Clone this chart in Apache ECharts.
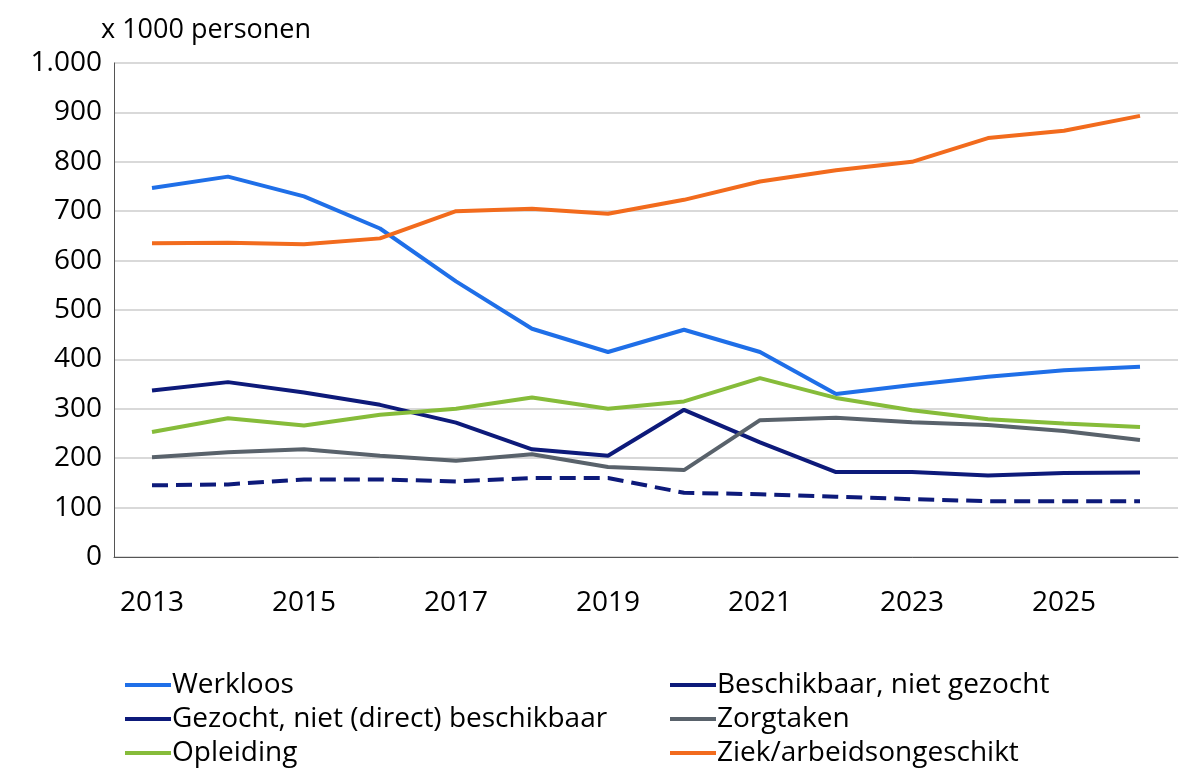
<!DOCTYPE html><html><head><meta charset="utf-8"><script src="https://cdn.jsdelivr.net/npm/echarts@6/dist/echarts.min.js"></script></head><body style="margin:0"><div id="c" style="width:1200px;height:783px"></div><script>
const years=['2013','2014','2015','2016','2017','2018','2019','2020','2021','2022','2023','2024','2025','2026'];
const werkloos=[747,770,730,665,558,462,415,460,415,330,348,365,378,385];
const beschikbaar=[337,354,333,308,272,218,205,298,232,172,172,165,170,171];
const gezocht=[145,147,157,157,153,160,160,130,127,122,117,113,113,113];
const zorgtaken=[202,212,218,205,195,208,182,176,277,282,273,267,255,237];
const opleiding=[253,281,266,288,300,323,300,315,362,322,297,279,270,263];
const ziek=[635,636,633,645,700,705,695,723,760,783,800,848,863,893];
const F='Open Sans';
function s(name,data,color,type){return {name,type:'line',data,symbol:'none',lineStyle:{color,width:4,type:type||'solid'},itemStyle:{color}};}
const leg=(left,data)=>({left,top:666,orient:'vertical',itemGap:6,itemWidth:46,itemHeight:4,icon:'rect',textStyle:{fontFamily:F,fontSize:28,color:'#000',padding:[0,0,0,-4]},data});
const ch=echarts.init(document.getElementById('c'));
ch.setOption({animation:false,
grid:{left:114,right:22,top:63,bottom:226},
title:{text:'x 1000 personen',left:96,top:12,textStyle:{fontFamily:F,fontSize:27,fontWeight:'normal',color:'#000'}},
legend:[leg(120,['Werkloos','Gezocht, niet (direct) beschikbaar','Opleiding']),leg(665,['Beschikbaar, niet gezocht','Zorgtaken','Ziek/arbeidsongeschikt'])],
xAxis:{type:'category',data:years,boundaryGap:true,axisLine:{lineStyle:{color:'#555'}},axisTick:{length:12,interval:0,lineStyle:{color:'#555'}},axisLabel:{interval:1,fontFamily:F,fontSize:28,color:'#000',margin:32}},
yAxis:{type:'value',min:0,max:1000,interval:100,axisLine:{show:true,lineStyle:{color:'#555'}},splitLine:{lineStyle:{color:'#d9d9d9',width:2}},axisLabel:{fontFamily:F,fontSize:28,color:'#000',margin:12,formatter:v=>v===1000?'1.000':v}},
series:[s('Werkloos',werkloos,'#1f6fe8'),s('Beschikbaar, niet gezocht',beschikbaar,'#0d1a7a'),s('Gezocht, niet (direct) beschikbaar',gezocht,'#0d1a7a','dashed'),s('Zorgtaken',zorgtaken,'#59626b'),s('Opleiding',opleiding,'#86bc3a'),s('Ziek/arbeidsongeschikt',ziek,'#f26b1d')]});
</script></body></html>
